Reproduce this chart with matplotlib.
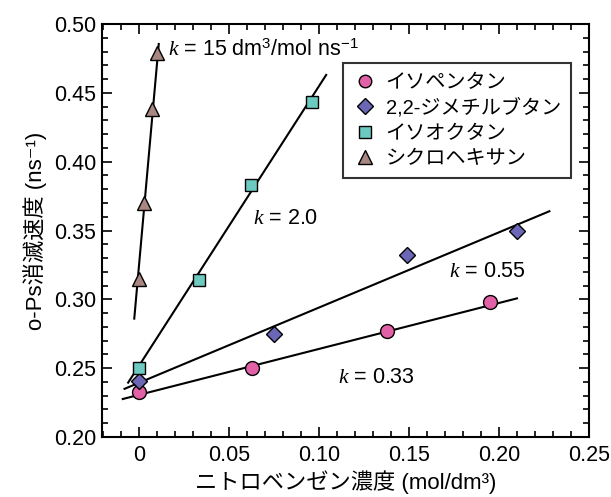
import matplotlib
matplotlib.use('Agg')
import matplotlib.pyplot as plt
from matplotlib.ticker import MultipleLocator, FixedLocator

plt.rcParams['font.family'] = ['Liberation Sans', 'Noto Sans CJK JP', 'DejaVu Sans']
plt.rcParams['mathtext.fontset'] = 'custom'
plt.rcParams['mathtext.rm'] = 'Liberation Sans'
plt.rcParams['mathtext.it'] = 'Liberation Serif:italic'

# data
ipen_x = [0.0, 0.063, 0.138, 0.195]
ipen_y = [0.233, 0.250, 0.277, 0.298]
dmb_x = [0.0, 0.075, 0.149, 0.210]
dmb_y = [0.241, 0.275, 0.332, 0.350]
ioct_x = [0.0, 0.0335, 0.062, 0.096]
ioct_y = [0.250, 0.314, 0.383, 0.443]
chex_x = [0.0, 0.003, 0.007, 0.0098]
chex_y = [0.315, 0.370, 0.438, 0.479]

# fitted lines (end points)
ipen_fx = [-0.009, 0.21]
ipen_fy = [0.2276, 0.3007]
dmb_fx = [-0.008, 0.228]
dmb_fy = [0.235, 0.364]
ioct_fx = [-0.006, 0.104]
ioct_fy = [0.2395, 0.463]
chex_fx = [-0.0026, 0.011]
chex_fy = [0.286, 0.4855]

labels = ['イソペンタン', '2,2-ジメチルブタン', 'イソオクタン', 'シクロヘキサン']
colors = ['#e160a6', '#6b66b5', '#6ccac0', '#a88681']

fig = plt.figure(figsize=(6.11, 4.97), dpi=100)
ax = fig.add_axes([0.167, 0.1207, 0.797, 0.831])

for fx, fy in [(ipen_fx, ipen_fy), (dmb_fx, dmb_fy), (ioct_fx, ioct_fy), (chex_fx, chex_fy)]:
    ax.plot(fx, fy, color='black', lw=1.5, zorder=2)

ms = 10
ax.plot(ipen_x, ipen_y, 'o', ms=ms, mfc=colors[0], mec='black', mew=1.0, label=labels[0], zorder=3)
ax.plot(dmb_x, dmb_y, 'D', ms=ms * 0.85, mfc=colors[1], mec='black', mew=1.0, label=labels[1], zorder=3)
ax.plot(ioct_x, ioct_y, 's', ms=ms * 0.9, mfc=colors[2], mec='black', mew=1.0, label=labels[2], zorder=3)
ax.plot(chex_x, chex_y, '^', ms=ms * 1.05, mfc=colors[3], mec='black', mew=1.0, label=labels[3], zorder=3)

fs = 15.5
ax.text(0.0163, 0.481, r'$k$ = 15 dm$^{3}$/mol ns$^{-1}$', fontsize=fs, va='center')
ax.text(0.0635, 0.359, r'$k$ = 2.0', fontsize=fs, va='center')
ax.text(0.172, 0.320, r'$k$ = 0.55', fontsize=fs, va='center')
ax.text(0.1106, 0.243, r'$k$ = 0.33', fontsize=fs, va='center')

ax.set_xlim(-0.0205, 0.25)
ax.set_ylim(0.20, 0.50)
ax.xaxis.set_major_locator(FixedLocator([0, 0.05, 0.10, 0.15, 0.20, 0.25]))
ax.set_xticklabels(['0', '0.05', '0.10', '0.15', '0.20', '0.25'])
ax.xaxis.set_minor_locator(MultipleLocator(0.01))
ax.yaxis.set_major_locator(MultipleLocator(0.05))
ax.yaxis.set_minor_locator(MultipleLocator(0.01))
ax.yaxis.set_major_formatter(matplotlib.ticker.FormatStrFormatter('%.2f'))
ax.tick_params(which='both', direction='in', top=True, right=True, labelsize=fs, width=1.2, pad=4)
ax.tick_params(axis='x', which='both', pad=6)
ax.tick_params(which='major', length=7)
ax.tick_params(which='minor', length=4)
for s in ax.spines.values():
    s.set_linewidth(1.5)

ax.set_xlabel('ニトロベンゼン濃度 (mol/dm³)', fontsize=16, labelpad=3)
ax.set_ylabel('o-Ps消滅速度 (ns⁻¹)', fontsize=16, labelpad=5)

leg = ax.legend(loc='upper right', bbox_to_anchor=(0.963, 0.906), borderaxespad=0, fontsize=14.5,
                frameon=True, fancybox=False, edgecolor='black', handletextpad=0.5,
                borderpad=0.5, labelspacing=0.3, handlelength=1.1, numpoints=1, markerscale=0.9)
leg.get_frame().set_linewidth(1.5)

fig.savefig('out.png', dpi=100)
